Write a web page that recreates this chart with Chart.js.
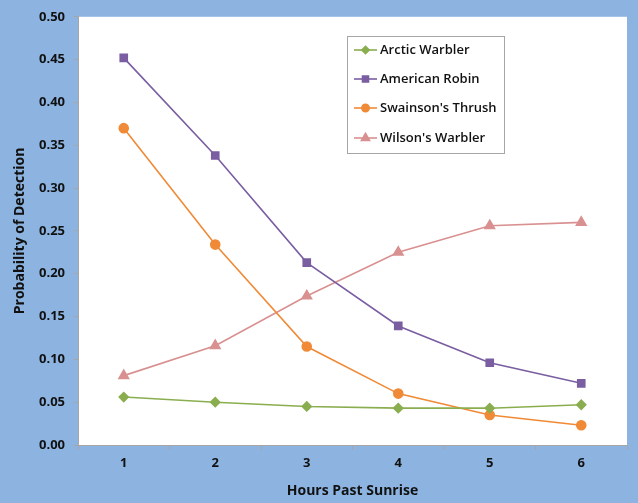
<!DOCTYPE html>
<html>
<head>
<meta charset="utf-8">
<script src="https://cdn.jsdelivr.net/npm/chart.js@4.4.1/dist/chart.umd.min.js"></script>
<style>
  html, body { margin: 0; padding: 0; background: #8db4e1; }
  #wrap { width: 638px; height: 503px; position: relative; }
</style>
</head>
<body>
<div id="wrap"><canvas id="c" width="638" height="503"></canvas></div>
<script>
const hours = ['1', '2', '3', '4', '5', '6'];
const yTicks = [0, 0.05, 0.10, 0.15, 0.20, 0.25, 0.30, 0.35, 0.40, 0.45, 0.50];
const arcticWarbler = [0.056, 0.050, 0.045, 0.043, 0.043, 0.047];
const americanRobin = [0.452, 0.338, 0.213, 0.139, 0.096, 0.072];
const swainsonsThrush = [0.370, 0.234, 0.115, 0.060, 0.035, 0.023];
const wilsonsWarbler = [0.081, 0.116, 0.174, 0.225, 0.256, 0.260];

const FONT = '"Open Sans", "DejaVu Sans", sans-serif';

function ds(label, data, color, style, radius) {
  return {
    label, data,
    borderColor: color, backgroundColor: color,
    pointBackgroundColor: color, pointBorderColor: color,
    pointStyle: style, pointRadius: radius, pointHoverRadius: radius,
    borderWidth: 1.6, tension: 0, fill: false
  };
}

const plotBg = {
  id: 'plotBg',
  beforeDraw(chart) {
    const { ctx, chartArea: a } = chart;
    ctx.save();
    ctx.fillStyle = '#ffffff';
    ctx.fillRect(a.left, a.top, a.right - a.left, a.bottom - a.top);
    ctx.restore();
  }
};

const boxLegend = {
  id: 'boxLegend',
  afterDatasetsDraw(chart) {
    const ctx = chart.ctx;
    const x0 = 347, y0 = 36, w = 157, h = 117;
    ctx.save();
    ctx.fillStyle = '#ffffff';
    ctx.fillRect(x0, y0, w, h);
    ctx.strokeStyle = '#a6a6a6';
    ctx.lineWidth = 1;
    ctx.strokeRect(x0 + 0.5, y0 + 0.5, w, h);
    const rows = [50, 79, 108, 138];
    chart.data.datasets.forEach((d, i) => {
      const y = rows[i];
      ctx.strokeStyle = d.borderColor;
      ctx.lineWidth = 1.6;
      ctx.beginPath();
      ctx.moveTo(354, y);
      ctx.lineTo(377, y);
      ctx.stroke();
      ctx.fillStyle = d.backgroundColor;
      Chart.helpers.drawPoint(ctx, { pointStyle: d.pointStyle, radius: d.pointRadius - 0.8, rotation: 0, borderWidth: 1 }, 365.5, y);
      ctx.fillStyle = '#111';
      ctx.font = '600 13px ' + FONT;
      ctx.textAlign = 'left';
      ctx.textBaseline = 'middle';
      ctx.fillText(d.label, 380, y);
    });
    ctx.restore();
  }
};

new Chart(document.getElementById('c'), {
  type: 'line',
  data: {
    labels: hours,
    datasets: [
      ds('Arctic Warbler', arcticWarbler, '#8aae4f', 'rectRot', 4.5),
      ds('American Robin', americanRobin, '#7a5ea1', 'rect', 5),
      ds("Swainson's Thrush", swainsonsThrush, '#f08a36', 'circle', 4.5),
      ds("Wilson's Warbler", wilsonsWarbler, '#d99090', 'triangle', 5.5)
    ]
  },
  options: {
    responsive: false,
    animation: false,
    devicePixelRatio: 1,
    layout: { padding: { top: 11, right: 11, left: 0, bottom: 0 } },
    plugins: { legend: { display: false }, tooltip: { enabled: false } },
    scales: {
      x: {
        type: 'category',
        offset: true,
        grid: { offset: true, drawOnChartArea: false, drawTicks: true, tickLength: 5, color: '#a6a6a6' },
        border: { display: true, color: '#a6a6a6', width: 1 },
        ticks: { color: '#111', font: { family: FONT, size: 13, weight: 'bold' }, padding: 5, maxRotation: 0 },
        title: { display: true, text: 'Hours Past Sunrise', color: '#111', font: { family: FONT, size: 14, weight: 'bold' }, padding: { top: 8 } },
        afterFit(s) { s.height = 58; }
      },
      y: {
        min: 0, max: 0.5,
        afterBuildTicks(s) { s.ticks = yTicks.map(v => ({ value: v })); },
        grid: { drawOnChartArea: false, drawTicks: true, tickLength: 4, color: '#a6a6a6' },
        border: { display: true, color: '#a6a6a6', width: 1 },
        ticks: { color: '#111', font: { family: FONT, size: 13, weight: 'bold' }, padding: 9, callback: v => Number(v).toFixed(2) },
        title: { display: true, text: 'Probability of Detection', color: '#111', font: { family: FONT, size: 14, weight: 'bold' }, padding: { top: 12, bottom: 4 } },
        afterFit(s) { s.width = 78; }
      }
    }
  },
  plugins: [plotBg, boxLegend]
});
</script>
</body>
</html>
